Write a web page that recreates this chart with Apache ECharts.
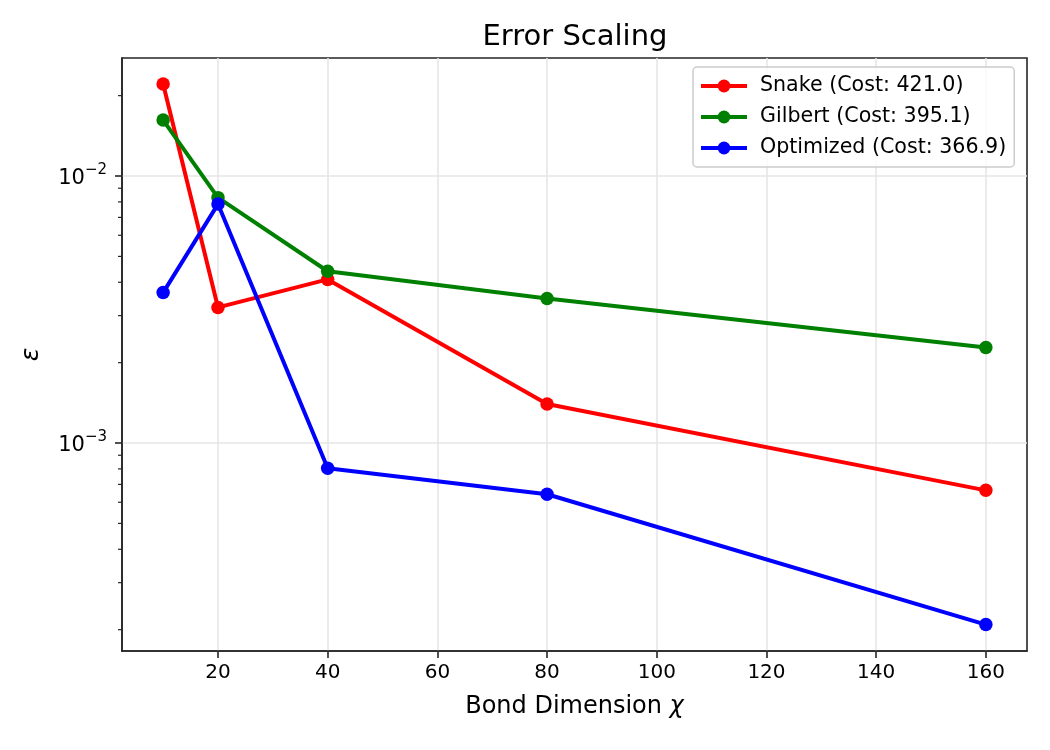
<!DOCTYPE html>
<html>
<head>
<meta charset="utf-8">
<script src="https://cdn.jsdelivr.net/npm/echarts@6/dist/echarts.min.js"></script>
<style>html,body{margin:0;padding:0;background:#fff}#c{width:1050px;height:750px}</style>
</head>
<body>
<div id="c"></div>
<script>
const bondDims = [10, 20, 40, 80, 160];
const snake = [0.0221, 0.00322, 0.00410, 0.00140, 0.000665];
const gilbert = [0.0162, 0.00830, 0.00440, 0.00348, 0.00228];
const optimized = [0.00366, 0.00785, 0.000805, 0.000643, 0.000209];
const seriesNames = ['Snake (Cost: 421.0)', 'Gilbert (Cost: 395.1)', 'Optimized (Cost: 366.9)'];
const xTicks = [20, 40, 60, 80, 100, 120, 140, 160];
const yMajorTicks = [0.001, 0.01];
const yMinorTicks = [2e-4,3e-4,4e-4,5e-4,6e-4,7e-4,8e-4,9e-4,2e-3,3e-3,4e-3,5e-3,6e-3,7e-3,8e-3,9e-3,2e-2];
const xMin = 2.5, xMax = 167.5;
const yMin = 1.664e-4, yMax = 0.02767;

const FONT = 'DejaVu Sans';
const chart = echarts.init(document.getElementById('c'), null, {renderer: 'canvas'});

function mk(name, data, color) {
  return {
    name: name, type: 'line', data: bondDims.map((x, i) => [x, data[i]]),
    symbol: 'circle', symbolSize: 13.5,
    lineStyle: {color: color, width: 4},
    itemStyle: {color: color},
    emphasis: {disabled: true}, animation: false, z: 3
  };
}

function supLabel(v) {
  const e = Math.round(Math.log10(v));
  return '{b|10}{s|\u2212' + Math.abs(e) + '}';
}

const option = {
  animation: false,
  title: {
    text: 'Error Scaling', left: 570, top: 18, textAlign: 'center',
    textStyle: {fontFamily: FONT, fontSize: 29, fontWeight: 'normal', color: '#000'}
  },
  legend: {
    orient: 'vertical', left: 693, top: 67,
    padding: [8, 8, 8, 6], itemGap: 9,
    itemWidth: 46, itemHeight: 16,
    backgroundColor: 'rgba(255,255,255,0.8)', borderColor: '#cccccc', borderWidth: 1.5, borderRadius: 4,
    lineStyle: {width: 4},
    textStyle: {fontFamily: FONT, fontSize: 20.6, color: '#000', padding: [0,0,0,8], lineHeight: 22},
    data: seriesNames
  },
  grid: {left: 122, right: 23, top: 58, bottom: 99, show: true, borderColor: '#262626', borderWidth: 1.6, backgroundColor: 'transparent'},
  xAxis: {
    type: 'value', min: xMin, max: xMax,
    name: 'Bond Dimension {i|\u03c7}', nameLocation: 'middle', nameGap: 44,
    nameTextStyle: {fontFamily: FONT, fontSize: 24, color: '#000',
      rich: {i: {fontFamily: FONT, fontSize: 24, fontStyle: 'italic', color: '#000'}}},
    axisLine: {show: true, onZero: false, lineStyle: {color: '#262626', width: 1.6}},
    axisTick: {show: true, length: 7, inside: false, customValues: xTicks, lineStyle: {color: '#262626', width: 1.6}},
    axisLabel: {customValues: xTicks, margin: 12, fontFamily: FONT, fontSize: 20, color: '#000'},
    splitLine: {show: true, lineStyle: {color: '#e6e6e6', width: 1.6}}
  },
  yAxis: {
    type: 'log', logBase: 10, min: yMin, max: yMax,
    name: '\u03b5', nameLocation: 'middle', nameGap: 78, nameRotate: 90,
    nameTextStyle: {fontFamily: FONT, fontSize: 25, fontStyle: 'italic', color: '#000'},
    axisLine: {show: true, lineStyle: {color: '#262626', width: 1.6}},
    axisTick: {show: true, length: 7, customValues: yMajorTicks, lineStyle: {color: '#262626', width: 1.6}},
    axisLabel: {
      customValues: yMajorTicks, margin: 15,
      formatter: function (v) { return supLabel(v); },
      rich: {
        b: {fontFamily: FONT, fontSize: 21, color: '#000', verticalAlign: 'bottom', lineHeight: 26},
        s: {fontFamily: FONT, fontSize: 15, color: '#000', verticalAlign: 'top', lineHeight: 26, padding: [0,0,10,0]}
      }
    },
    splitLine: {show: true, lineStyle: {color: '#e6e6e6', width: 1.6}}
  },
  series: [
    mk(seriesNames[0], snake, '#ff0000'),
    mk(seriesNames[1], gilbert, '#008000'),
    mk(seriesNames[2], optimized, '#0000ff'),
    {
      type: 'custom', silent: true, clip: false, z: 5,
      data: yMinorTicks.map(v => [xMin, v]),
      renderItem: function (params, api) {
        const p = api.coord([api.value(0), api.value(1)]);
        return {type: 'line', shape: {x1: p[0] - 4, y1: p[1], x2: p[0], y2: p[1]},
                style: {stroke: '#262626', lineWidth: 1.2}};
      }
    }
  ]
};
chart.setOption(option);
</script>
</body>
</html>
